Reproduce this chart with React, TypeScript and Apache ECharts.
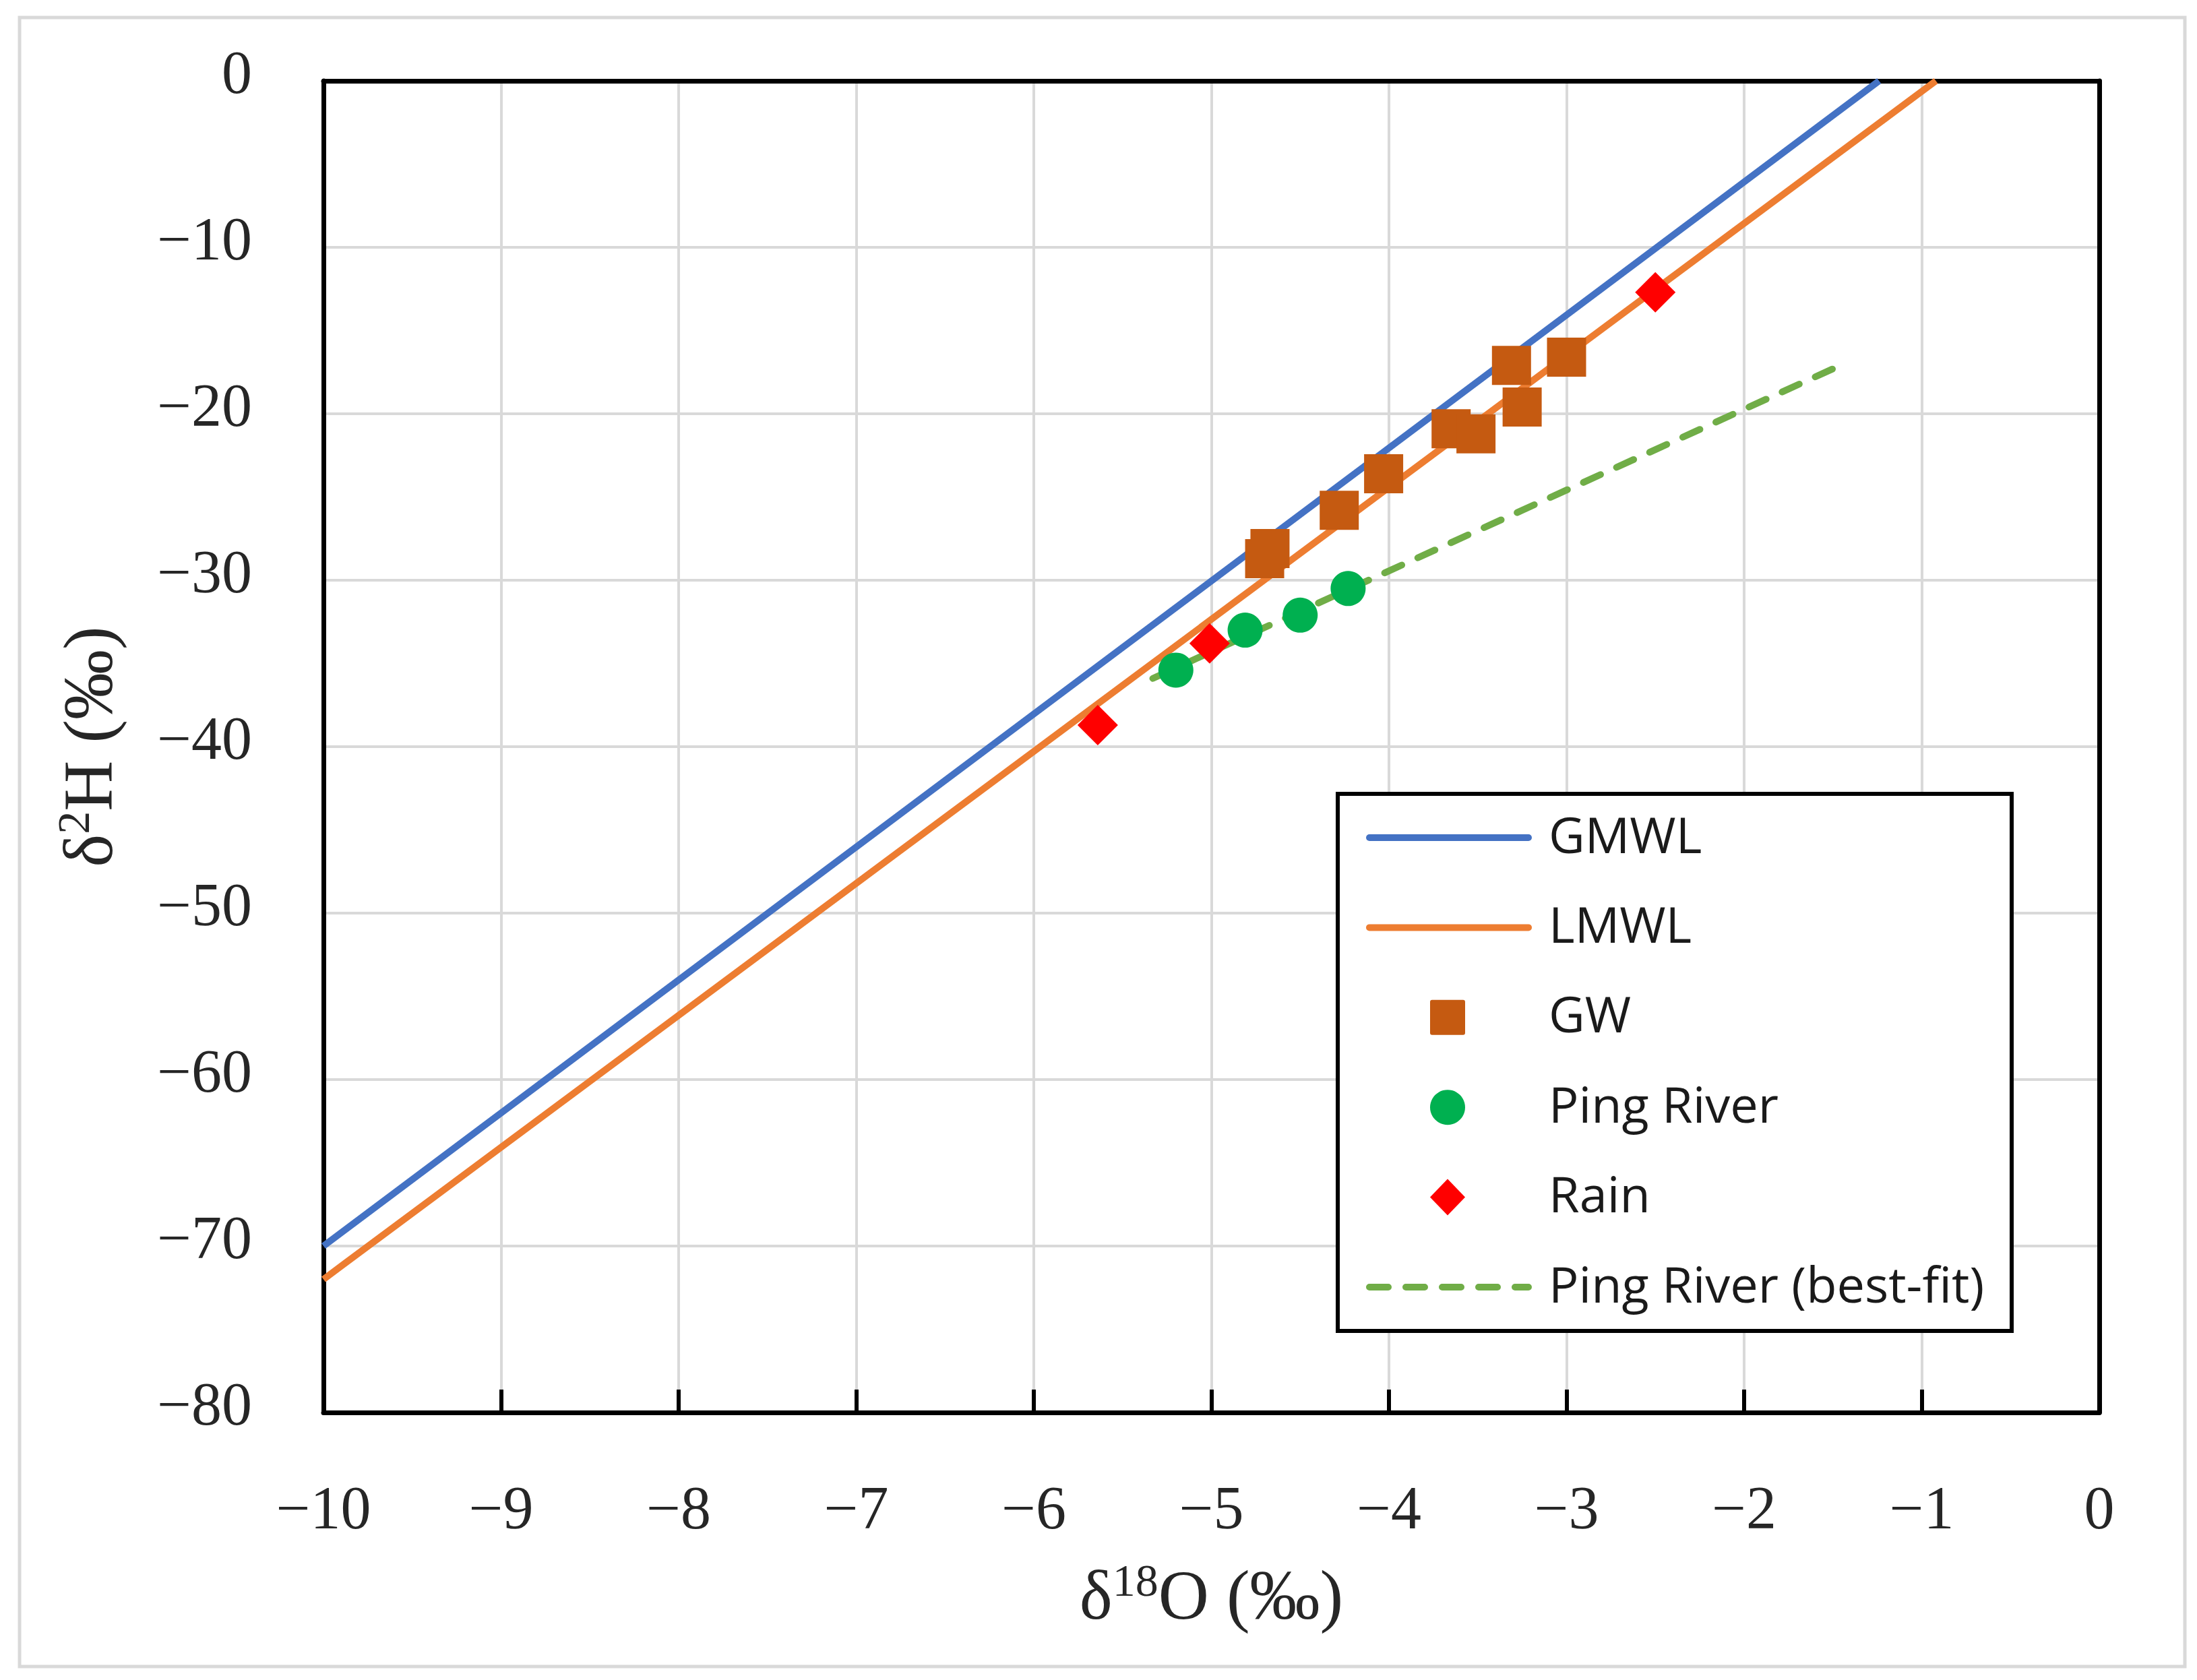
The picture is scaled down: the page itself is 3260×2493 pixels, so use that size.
import React, { useEffect, useRef } from "react";
import * as echarts from "echarts";

// ---- data ----
const xTicks = [-10, -9, -8, -7, -6, -5, -4, -3, -2, -1, 0];
const yTicks = [-80, -70, -60, -50, -40, -30, -20, -10, 0];

const gmwlX = [-10, -1.24];
const gmwlY = [-70, 0];
const lmwlX = [-10, -0.92];
const lmwlY = [-72, 0];
const fitX = [-5.33, -1.5];
const fitY = [-35.9, -17.3];

const gwX = [-3.31, -3.0, -3.25, -3.65, -3.51, -4.03, -4.28, -4.67, -4.7];
const gwY = [-17.1, -16.6, -19.6, -20.9, -21.2, -23.6, -25.8, -28.1, -28.7];
const pingX = [-5.2, -4.81, -4.5, -4.23];
const pingY = [-35.4, -33.0, -32.1, -30.5];
const rainX = [-5.64, -5.01, -2.5];
const rainY = [-38.7, -33.8, -12.7];

const legendNames = ["GMWL", "LMWL", "GW", "Ping River", "Rain", "Ping River (best-fit)"];

const C_GMWL = "#4472C4";
const C_LMWL = "#ED7D31";
const C_GW = "#C55A11";
const C_PING = "#00B050";
const C_RAIN = "#FF0000";
const C_FIT = "#70AD47";

const SERIF = '"Liberation Serif", "DejaVu Serif", serif';
const SANS = '"Open Sans", "Noto Sans", sans-serif';
const TXT = "#262626";

const zip = (xs: number[], ys: number[]) => xs.map((x, i) => [x, ys[i]]);
const fmt = (v: number) => (v < 0 ? "\u2212" + Math.abs(v) : String(v));

function buildLegend() {
  const kinds = ["line", "line", "rect", "circle", "diamond", "dash"];
  const colors = [C_GMWL, C_LMWL, C_GW, C_PING, C_RAIN, C_FIT];
  const children: any[] = [
    {
      type: "rect",
      z: 100,
      shape: { x: 1985, y: 1178, width: 1000, height: 797 },
      style: { fill: "#ffffff", stroke: "#000000", lineWidth: 6 },
    },
  ];
  const cx = 2148;
  legendNames.forEach((name, i) => {
    const y = 1243 + i * 133.4;
    const k = kinds[i];
    const col = colors[i];
    if (k === "line" || k === "dash") {
      children.push({
        type: "line",
        z: 101,
        shape: { x1: 2032, y1: y, x2: 2268, y2: y },
        style: {
          stroke: col,
          lineWidth: 10,
          lineCap: "round",
          lineDash: k === "dash" ? [28, 26] : null,
        },
      });
    } else if (k === "rect") {
      children.push({
        type: "rect",
        z: 101,
        shape: { x: cx - 26, y: y - 26, width: 52, height: 52, r: 3 },
        style: { fill: col },
      });
    } else if (k === "circle") {
      children.push({
        type: "circle",
        z: 101,
        shape: { cx, cy: y, r: 26 },
        style: { fill: col },
      });
    } else {
      children.push({
        type: "polygon",
        z: 101,
        shape: {
          points: [
            [cx, y - 27],
            [cx + 26, y],
            [cx, y + 27],
            [cx - 26, y],
          ],
        },
        style: { fill: col },
      });
    }
    children.push({
      type: "text",
      z: 101,
      x: 2298,
      y: y - 6,
      style: {
        text: name,
        fontSize: 74,
        fontFamily: SANS,
        fill: "#1a1a1a",
        align: "left",
        verticalAlign: "middle",
      },
    });
  });
  return children;
}

export default function App() {
  const ref = useRef<HTMLDivElement>(null);
  useEffect(() => {
    if (!ref.current) return;
    const chart = echarts.init(ref.current, undefined, { renderer: "svg" });
    const axisLineStyle = { color: "#000000", width: 7 };
    const labelStyle = { fontSize: 90, fontFamily: SERIF, color: TXT };
    const nameRich = {
      a: { fontSize: 104, fontFamily: SERIF, color: TXT, lineHeight: 130 },
      s: { fontSize: 68, fontFamily: SERIF, color: TXT, lineHeight: 130, padding: [0, 0, 42, 0] },
    };
    chart.setOption({
      animation: false,
      backgroundColor: "#ffffff",
      grid: { left: 480, top: 120, width: 2635, height: 1976, containLabel: false },
      xAxis: [
        {
          type: "value",
          min: xTicks[0],
          max: xTicks[xTicks.length - 1],
          interval: 1,
          position: "bottom",
          axisLine: { show: true, onZero: false, lineStyle: axisLineStyle },
          axisTick: { show: true, inside: true, length: 34, lineStyle: { color: "#000", width: 6 } },
          axisLabel: { ...labelStyle, margin: 96, formatter: (v: number) => fmt(v) },
          splitLine: {
            show: true,
            showMinLine: false,
            showMaxLine: false,
            lineStyle: { color: "#d9d9d9", width: 4 },
          },
          name: "{a|δ}{s|18}{a|O (‰)}",
          nameLocation: "middle",
          nameGap: 205,
          nameTextStyle: { fontSize: 104, fontFamily: SERIF, color: TXT, rich: nameRich },
        },
        {
          type: "value",
          min: xTicks[0],
          max: xTicks[xTicks.length - 1],
          interval: 1,
          position: "top",
          axisLine: { show: true, onZero: false, lineStyle: axisLineStyle },
          axisTick: { show: false },
          axisLabel: { show: false },
          splitLine: { show: false },
        },
      ],
      yAxis: [
        {
          type: "value",
          min: yTicks[0],
          max: yTicks[yTicks.length - 1],
          interval: 10,
          position: "left",
          axisLine: { show: true, onZero: false, lineStyle: axisLineStyle },
          axisTick: { show: false },
          axisLabel: {
            ...labelStyle,
            margin: 106,
            verticalAlign: "bottom",
            lineHeight: 26,
            formatter: (v: number) => fmt(v),
          },
          splitLine: {
            show: true,
            showMinLine: false,
            showMaxLine: false,
            lineStyle: { color: "#d9d9d9", width: 4 },
          },
          name: "{a|δ}{s|2}{a|H (‰)}",
          nameLocation: "middle",
          nameGap: 285,
          nameTextStyle: { fontSize: 104, fontFamily: SERIF, color: TXT, rich: nameRich },
        },
        {
          type: "value",
          min: yTicks[0],
          max: yTicks[yTicks.length - 1],
          interval: 10,
          position: "right",
          axisLine: { show: true, onZero: false, lineStyle: axisLineStyle },
          axisTick: { show: false },
          axisLabel: { show: false },
          splitLine: { show: false },
        },
      ],
      series: [
        {
          name: "GMWL",
          type: "line",
          data: zip(gmwlX, gmwlY),
          showSymbol: false,
          z: 2,
          lineStyle: { color: C_GMWL, width: 10 },
          itemStyle: { color: C_GMWL },
        },
        {
          name: "LMWL",
          type: "line",
          data: zip(lmwlX, lmwlY),
          showSymbol: false,
          z: 2,
          lineStyle: { color: C_LMWL, width: 10 },
          itemStyle: { color: C_LMWL },
        },
        {
          name: "Ping River (best-fit)",
          type: "line",
          data: zip(fitX, fitY),
          showSymbol: false,
          z: 2,
          lineStyle: { color: C_FIT, width: 10, type: [28, 26], cap: "round" },
          itemStyle: { color: C_FIT },
        },
        {
          name: "GW",
          type: "scatter",
          data: zip(gwX, gwY),
          symbol: "rect",
          symbolSize: 58,
          z: 3,
          itemStyle: { color: C_GW, opacity: 1 },
        },
        {
          name: "Ping River",
          type: "scatter",
          data: zip(pingX, pingY),
          symbol: "circle",
          symbolSize: 52,
          z: 3,
          itemStyle: { color: C_PING, opacity: 1 },
        },
        {
          name: "Rain",
          type: "scatter",
          data: zip(rainX, rainY),
          symbol: "diamond",
          symbolSize: 60,
          z: 4,
          itemStyle: { color: C_RAIN, opacity: 1 },
        },
      ],
      graphic: [
        {
          type: "rect",
          z: -10,
          silent: true,
          shape: { x: 29, y: 26, width: 3213, height: 2447 },
          style: { fill: "none", stroke: "#d9d9d9", lineWidth: 5 },
        },
        ...buildLegend(),
      ],
    });
    return () => chart.dispose();
  }, []);
  return (
    <div
      ref={ref}
      style={{ position: "fixed", left: 0, top: 0, width: 3260, height: 2493, background: "#fff" }}
    />
  );
}
